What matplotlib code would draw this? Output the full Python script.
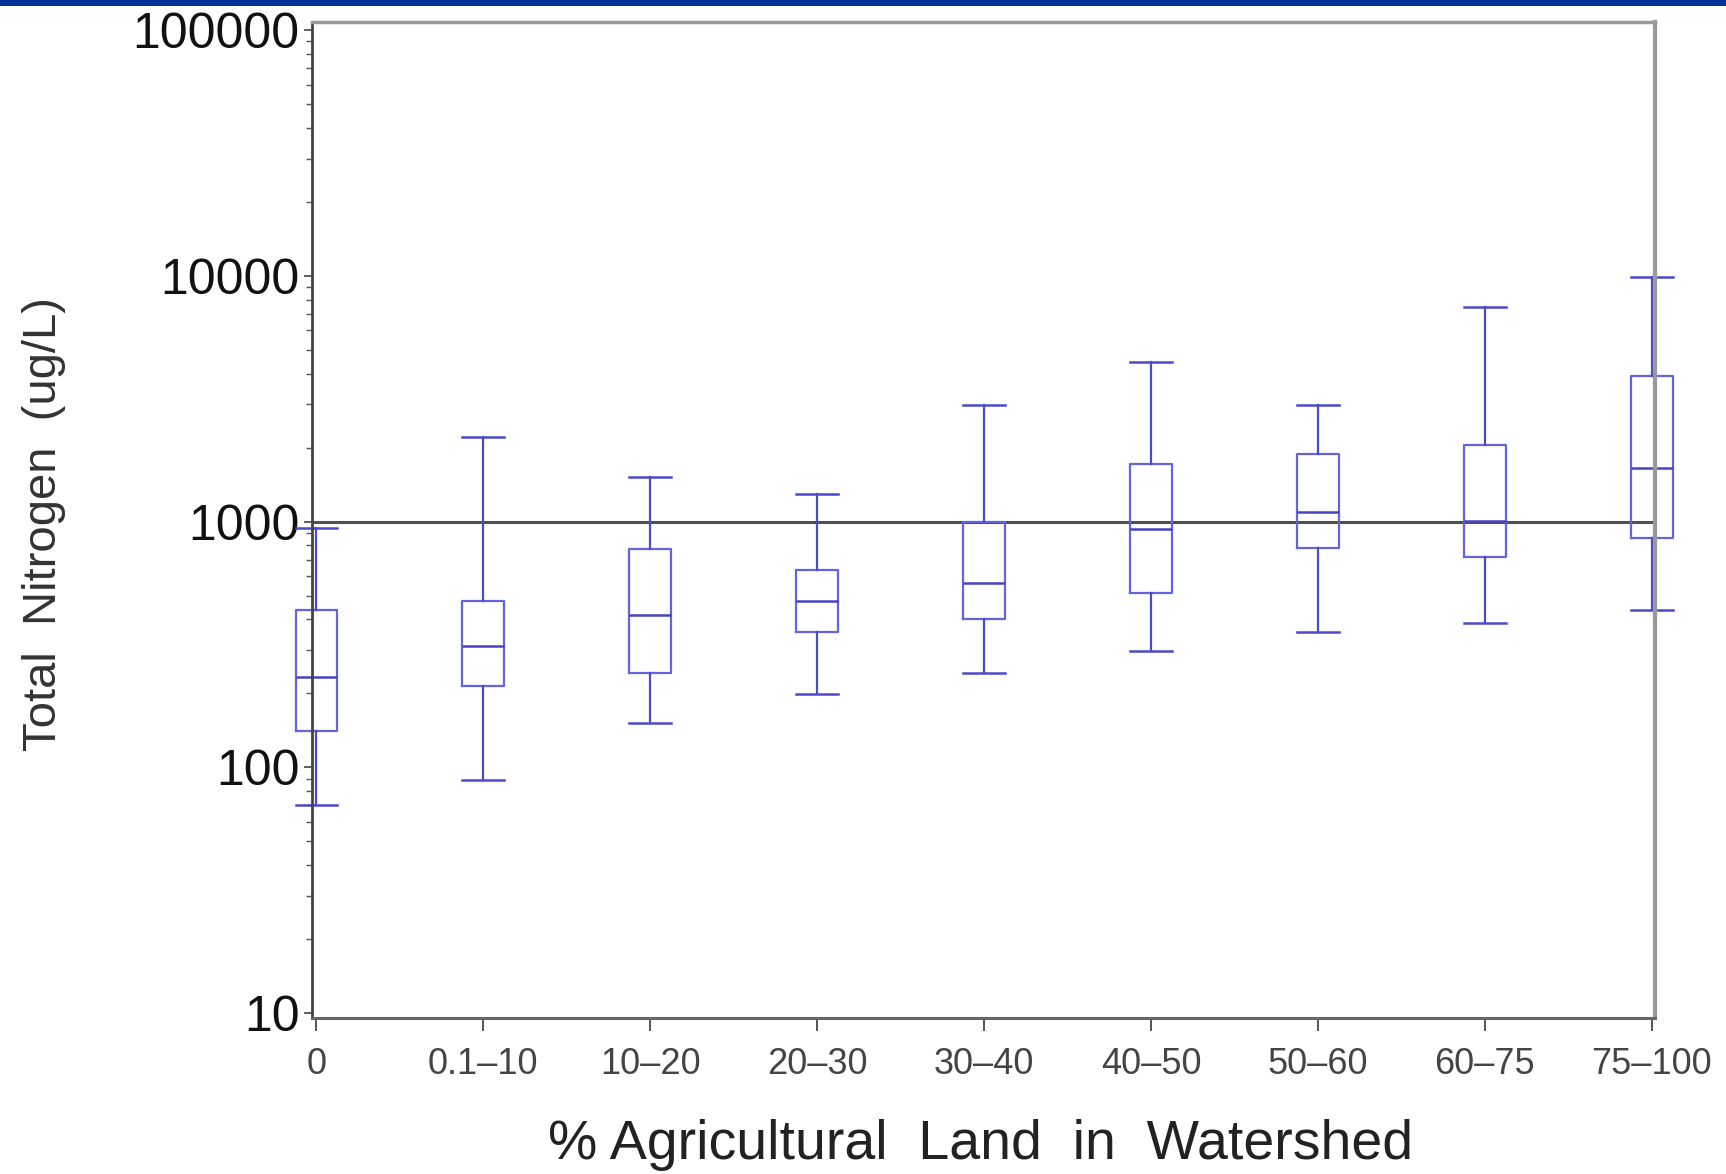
import matplotlib
matplotlib.use("Agg")
import matplotlib.pyplot as plt
from matplotlib.patches import Rectangle
from matplotlib.ticker import LogLocator, NullFormatter, FixedLocator, FixedFormatter

plt.rcParams['font.family'] = ['Liberation Sans', 'DejaVu Sans']

# % agricultural land classes
categories = ["0", "0.1–10", "10–20", "20–30", "30–40", "40–50", "50–60", "60–75", "75–100"]

# total nitrogen (ug/L) box statistics
whisker_low = [70, 89, 152, 198, 243, 298, 354, 385, 436]
q1 = [141, 215, 243, 354, 401, 512, 780, 719, 856]
median = [233, 312, 418, 476, 560, 931, 1098, 1007, 1656]
q3 = [437, 476, 776, 634, 1000, 1721, 1879, 2052, 3910]
whisker_high = [943, 2208, 1520, 1292, 2972, 4457, 2972, 7463, 9865]

ref_level = 1000
y_ticks = [10, 100, 1000, 10000, 100000]
y_ticklabels = ["10", "100", "1000", "10000", "100000"]

fig = plt.figure(figsize=(17.26, 11.74), dpi=100)
ax = fig.add_axes([0.1808, 0.1329, 0.7781, 0.8484])

# navy band along the top edge
fig.patches.append(Rectangle((0, 1 - 6 / 1174), 1, 6 / 1174, transform=fig.transFigure,
                             facecolor='#003399', edgecolor='none'))

stats = []
for i, lab in enumerate(categories):
    stats.append(dict(label=lab, whislo=whisker_low[i], q1=q1[i], med=median[i],
                      q3=q3[i], whishi=whisker_high[i], fliers=[]))

pos = list(range(len(categories)))
box_col = '#6464e0'
line_col = '#4a4acc'
art = ax.bxp(stats, positions=pos, widths=0.25, capwidths=0.25, showfliers=False,
             boxprops=dict(color=box_col, linewidth=1.6),
             medianprops=dict(color='#4545c0', linewidth=1.8),
             whiskerprops=dict(color=line_col, linewidth=1.6),
             capprops=dict(color=line_col, linewidth=1.8))
for k in art:
    for a in art[k]:
        a.set_clip_on(False)

ax.axhline(ref_level, color='#505050', linewidth=2.2, zorder=1)

ax.set_yscale('log')
ax.set_ylim(9.55, 1.08e5)
ax.set_xlim(-0.026, 8.02)

ax.yaxis.set_major_locator(FixedLocator(y_ticks))
ax.yaxis.set_major_formatter(FixedFormatter(y_ticklabels))
ax.yaxis.set_minor_locator(LogLocator(base=10, subs=range(2, 10)))
ax.yaxis.set_minor_formatter(NullFormatter())
ax.tick_params(axis='y', which='major', length=6, width=1.2, color='#444444',
               labelsize=36, pad=3, labelcolor='#111111')
ax.tick_params(axis='y', which='minor', length=4, width=1.0, color='#555555')

ax.set_xticks(pos)
ax.set_xticklabels(categories)
ax.tick_params(axis='x', length=9, width=1.4, color='#555555', labelsize=26,
               pad=12, labelcolor='#444444')

ax.set_xlabel("% Agricultural  Land  in  Watershed", fontsize=40, color='#222222',
              va='center')
ax.xaxis.set_label_coords(0.498, -0.1275)
ax.set_ylabel("Total  Nitrogen  (ug/L)", fontsize=34, color='#333333', va='center')
ax.yaxis.set_label_coords(-0.1996, 0.496)

ax.spines['left'].set_color('#444444')
ax.spines['left'].set_linewidth(2)
ax.spines['bottom'].set_color('#666666')
ax.spines['bottom'].set_linewidth(2.2)
ax.spines['top'].set_color('#999999')
ax.spines['top'].set_linewidth(2.5)
ax.spines['right'].set_color('#999999')
ax.spines['right'].set_linewidth(3)

fig.savefig("out.png", dpi=100, facecolor='white')
